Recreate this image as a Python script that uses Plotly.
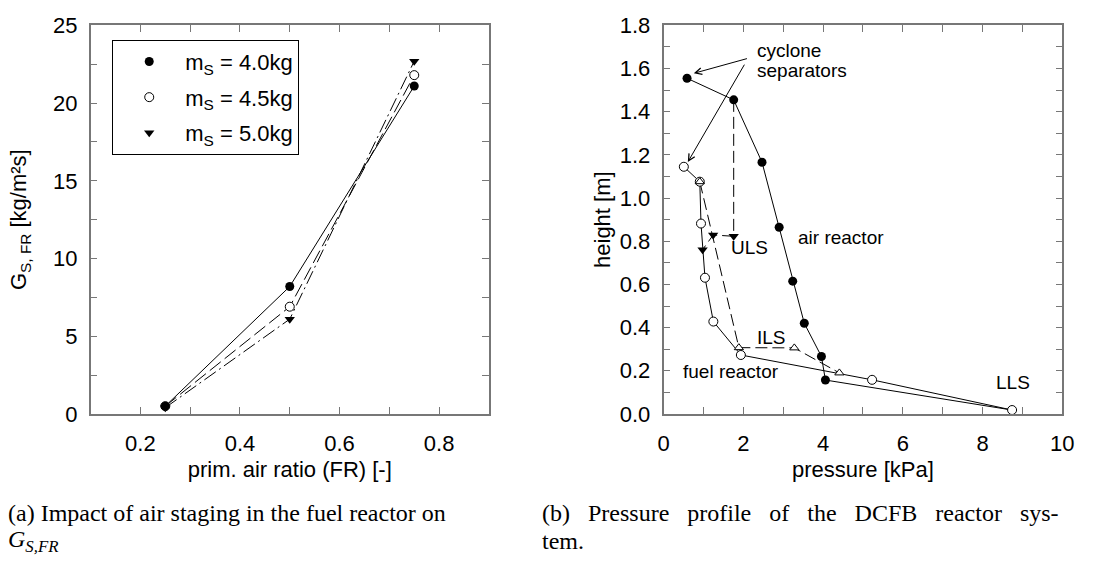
import plotly.graph_objects as go

# ---------------- data: left panel ----------------
fr_ratio = [0.25, 0.5, 0.75]
gs_40 = [0.5, 8.2, 21.1]
gs_45 = [0.5, 6.9, 21.8]
gs_50 = [0.4, 6.1, 22.7]
legend_names = ["m<sub>S</sub> = 4.0kg", "m<sub>S</sub> = 4.5kg", "m<sub>S</sub> = 5.0kg"]

# ---------------- data: right panel ----------------
air_p = [0.59, 1.76, 2.47, 2.90, 3.24, 3.53, 3.96, 4.06]
air_h = [1.555, 1.455, 1.166, 0.865, 0.615, 0.42, 0.266, 0.157]
fuel_p = [0.51, 0.91, 0.94, 1.04, 1.25, 1.94, 5.23]
fuel_h = [1.145, 1.076, 0.882, 0.631, 0.428, 0.273, 0.158]
lls_p = [8.74]
lls_h = [0.018]
uls_p = [1.76, 1.245, 0.98]
uls_h = [0.823, 0.829, 0.761]
ils_p = [0.91, 1.89, 3.28, 4.41]
ils_h = [1.076, 0.307, 0.306, 0.19]

FONT = "Liberation Sans, Arial, sans-serif"
SERIF = "Liberation Serif, Times New Roman, serif"
AX = "#777777"

fig = go.Figure()

# left panel traces (drawn 5.0 first so 4.0 kg ends on top); legend order via legendrank
left_specs = [
    (gs_50, legend_names[2], 3, "14px,4px,2px,4px", dict(symbol="triangle-down", color="black", size=9)),
    (gs_45, legend_names[1], 2, "14px,5px", dict(symbol="circle", color="white", size=9,
                                                  line=dict(color="black", width=1))),
    (gs_40, legend_names[0], 1, "solid", dict(symbol="circle", color="black", size=9)),
]
for ys, name, rank, dash, mk in left_specs:
    fig.add_trace(go.Scatter(x=fr_ratio, y=ys, mode="lines", line=dict(color="black", width=1, dash=dash),
                             showlegend=False, hoverinfo="skip", xaxis="x", yaxis="y"))
    fig.add_trace(go.Scatter(x=fr_ratio, y=ys, mode="markers", marker=mk, name=name,
                             legendgroup=f"g{rank}", legendrank=rank, showlegend=True,
                             xaxis="x", yaxis="y"))

# right panel
fig.add_trace(go.Scatter(x=air_p + lls_p, y=air_h + lls_h, mode="lines",
                         line=dict(color="black", width=1), showlegend=False, xaxis="x2", yaxis="y2"))
fig.add_trace(go.Scatter(x=fuel_p + lls_p, y=fuel_h + lls_h, mode="lines",
                         line=dict(color="black", width=1), showlegend=False, xaxis="x2", yaxis="y2"))
fig.add_trace(go.Scatter(x=[air_p[1]] + uls_p, y=[air_h[1]] + uls_h, mode="lines",
                         line=dict(color="black", width=1, dash="12px,5px"), showlegend=False,
                         xaxis="x2", yaxis="y2"))
fig.add_trace(go.Scatter(x=ils_p, y=ils_h, mode="lines",
                         line=dict(color="black", width=1, dash="12px,5px"), showlegend=False,
                         xaxis="x2", yaxis="y2"))
fig.add_trace(go.Scatter(x=air_p, y=air_h, mode="markers",
                         marker=dict(symbol="circle", color="black", size=9), showlegend=False,
                         xaxis="x2", yaxis="y2"))
fig.add_trace(go.Scatter(x=fuel_p + lls_p, y=fuel_h + lls_h, mode="markers",
                         marker=dict(symbol="circle", color="white", size=9, line=dict(color="black", width=1)),
                         showlegend=False, xaxis="x2", yaxis="y2"))
fig.add_trace(go.Scatter(x=uls_p, y=uls_h, mode="markers",
                         marker=dict(symbol="triangle-down", color="black", size=9), showlegend=False,
                         xaxis="x2", yaxis="y2"))
fig.add_trace(go.Scatter(x=ils_p, y=ils_h, mode="markers",
                         marker=dict(symbol="triangle-up", color="white", size=8, line=dict(color="black", width=1)),
                         showlegend=False, xaxis="x2", yaxis="y2"))

W, H = 1094, 581
ydom = [(H - 420) / H, (H - 14) / H]

def axis_common(is_x):
    return dict(showline=True, linecolor=AX, linewidth=1.5, mirror="ticks", ticks="inside",
                ticklen=7, tickcolor=AX, tickwidth=1.2, showgrid=False, zeroline=False,
                ticklabelstandoff=9 if is_x else 7,
                tickfont=dict(family=FONT, size=22, color="black"),
                title_font=dict(family=FONT, size=22, color="black"))

fig.update_layout(
    width=W, height=H, margin=dict(l=0, r=0, t=0, b=0),
    paper_bgcolor="white", plot_bgcolor="white",
    font=dict(family=FONT, size=22, color="black"),
    xaxis=dict(domain=[86 / W, 491 / W], range=[0.1, 0.9], dtick=0.2, tick0=0,
               minor=dict(dtick=0.1, ticks="inside", ticklen=7, tickcolor=AX),
               title=dict(text="prim. air ratio (FR) [-]", standoff=7), **axis_common(True)),
    yaxis=dict(domain=ydom, range=[0, 25], dtick=5,
               minor=dict(dtick=2.5, ticks="inside", ticklen=7, tickcolor=AX),
               title=dict(text="G<sub>S, FR</sub> [kg/m²s]", standoff=20), **axis_common(False)),
    xaxis2=dict(domain=[668.5 / W, 1074 / W], range=[0, 10], dtick=2, anchor="y2",
                minor=dict(dtick=1, ticks="inside", ticklen=7, tickcolor=AX),
                title=dict(text="pressure [kPa]", standoff=7), **axis_common(True)),
    yaxis2=dict(domain=ydom, range=[0, 1.8], dtick=0.2, tickformat=".1f", anchor="x2",
                minor=dict(dtick=0.1, ticks="inside", ticklen=7, tickcolor=AX),
                title=dict(text="height [m]", standoff=3), **axis_common(False)),
    legend=dict(x=108 / W, y=(H - 29) / H, xanchor="left", yanchor="top",
                bordercolor="black", borderwidth=1, bgcolor="white",
                traceorder="grouped", tracegroupgap=4, itemwidth=62,
                font=dict(family=FONT, size=22, color="black")),
    showlegend=True,
)

ann_font = dict(family=FONT, size=19, color="black")
for txt, x, y in [("cyclone", 2.30, 1.684), ("separators", 2.30, 1.589)]:
    fig.add_annotation(x=x, y=y, xref="x2", yref="y2", text=txt, showarrow=False,
                       xanchor="left", yanchor="middle", font=ann_font)
for txt, x, y in [("ULS", 2.15, 0.769), ("air reactor", 4.45, 0.816), ("ILS", 2.70, 0.355),
                  ("fuel reactor", 1.68, 0.197), ("LLS", 8.77, 0.146)]:
    fig.add_annotation(x=x, y=y, xref="x2", yref="y2", text=txt, showarrow=False,
                       xanchor="center", yanchor="middle", font=ann_font)

# arrows to cyclone separators
for (tx, ty, hx, hy) in [(2.13, 1.648, 0.76, 1.578), (2.05, 1.625, 0.61, 1.167)]:
    fig.add_annotation(x=hx, y=hy, ax=tx, ay=ty, xref="x2", yref="y2", axref="x2", ayref="y2",
                       text="", showarrow=True, arrowhead=5, arrowsize=1.3, arrowwidth=1,
                       arrowcolor="black", standoff=0)

# captions (the (b) line is justified in the reference, so word gaps are widened a little)
cap_font = dict(family=SERIF, size=24, color="black")
sp = "&nbsp;&nbsp; "
captions = [
    ("(a) Impact of air staging in the fuel reactor on", 0, 524),
    ("<i>G</i><sub><i>S,FR</i></sub>", 0, 553),
    (sp.join(["(b)", "Pressure", "profile", "of", "the", "DCFB", "reactor", "sys-"]), 543, 524),
    ("tem.", 543, 553),
]
for txt, px, py in captions:
    fig.add_annotation(x=px / W, y=(H - py) / H, xref="paper", yref="paper", text=txt,
                       showarrow=False, xanchor="left", yanchor="middle", font=cap_font)

fig.write_html("out.html")
